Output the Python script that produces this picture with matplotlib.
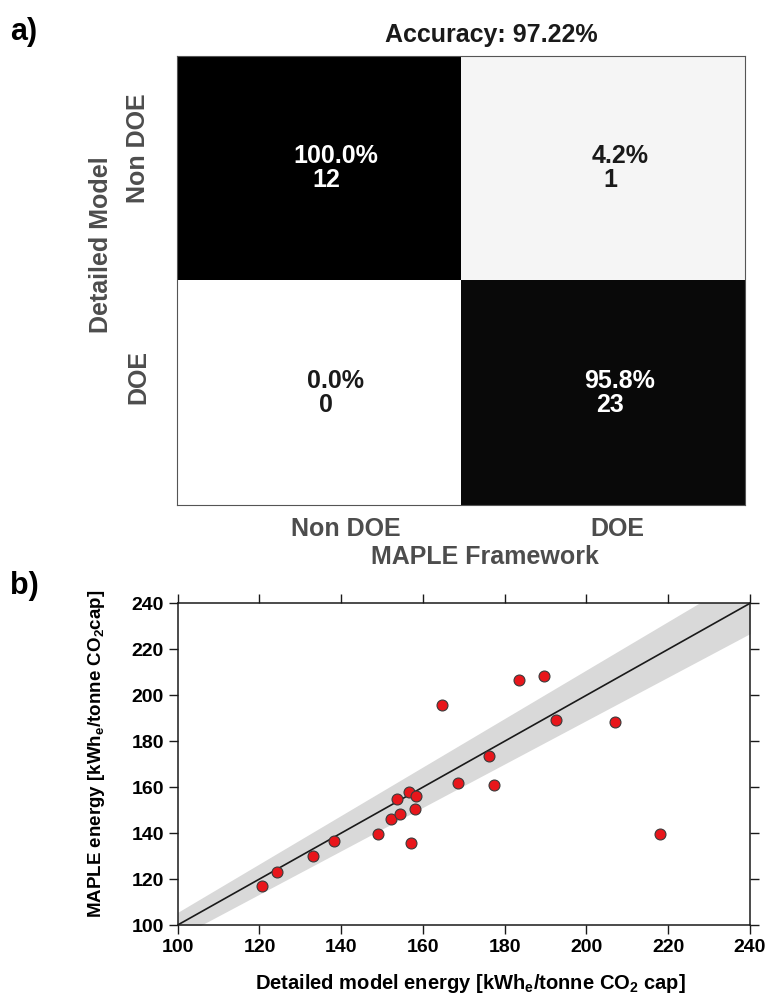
import numpy as np
import matplotlib
matplotlib.use("Agg")
import matplotlib.pyplot as plt

plt.rcParams['font.family'] = ['Liberation Sans', 'DejaVu Sans']
plt.rcParams['font.weight'] = 'bold'
plt.rcParams['mathtext.fontset'] = 'custom'
plt.rcParams['mathtext.bf'] = 'Liberation Sans:bold'
plt.rcParams['mathtext.rm'] = 'Liberation Sans:bold'
plt.rcParams['mathtext.default'] = 'bf'

# ---- confusion matrix data ----
class_names = ["Non DOE", "DOE"]
counts = np.array([[12, 1],
                   [0, 23]])
accuracy = 97.22

# ---- energy comparison data ----
detailed_energy = [120.6, 124.3, 133.2, 138.3, 148.9, 152.2, 154.4, 153.6, 156.6,
                   158.3, 158.0, 157.0, 164.7, 168.6, 176.2, 177.4, 183.4, 189.5,
                   192.6, 207.0, 218.0]
maple_energy = [117.1, 123.0, 130.2, 136.5, 139.7, 146.2, 148.4, 155.0, 158.0,
                156.3, 150.3, 135.9, 195.6, 161.9, 173.5, 160.9, 206.6, 208.4,
                189.1, 188.2, 139.5]
band_frac = 0.055
axis_range = (100, 240)
ticks = np.arange(100, 241, 20)

W, H = 768, 996
fig = plt.figure(figsize=(W / 100, H / 100), dpi=100)


def ax_rect(left, top, right, bottom):
    return [left / W, 1 - bottom / H, (right - left) / W, (bottom - top) / H]


# ================= a) confusion matrix =================
ax1 = fig.add_axes(ax_rect(177, 56, 745, 505))
pct = counts / counts.sum(axis=0, keepdims=True) * 100
ax1.imshow(pct, cmap='gray_r', vmin=0, vmax=100, aspect='auto',
           interpolation='nearest')
for sp in ax1.spines.values():
    sp.set_color('#555555')
    sp.set_linewidth(0.8)
ax1.set_xticks([])
ax1.set_yticks([])

for i in range(2):
    for j in range(2):
        c = 'white' if pct[i, j] > 50 else '#1a1a1a'
        ax1.annotate(f"{pct[i, j]:.1f}%", xy=(j, i), xytext=(17, 12),
                     textcoords='offset pixels', ha='center', va='center',
                     fontsize=18, fontweight='bold', color=c)
        ax1.annotate(f"{counts[i, j]:d}", xy=(j, i), xytext=(7, -12),
                     textcoords='offset pixels', ha='center', va='center',
                     fontsize=18, fontweight='bold', color=c)

label_gray = '#4d4d4d'
x_shift = [27, 14]
for j, name in enumerate(class_names):
    ax1.annotate(name, xy=(j, 0), xycoords=ax1.get_xaxis_transform(),
                 xytext=(x_shift[j], -12), textcoords='offset pixels',
                 ha='center', va='top', fontsize=18, fontweight='bold',
                 color=label_gray)
y_shift = [20, 16]
for i, name in enumerate(class_names):
    ax1.annotate(name, xy=(0, i), xycoords=ax1.get_yaxis_transform(),
                 xytext=(-27, y_shift[i]), textcoords='offset pixels',
                 ha='right', va='center', rotation=90, fontsize=18,
                 fontweight='bold', color=label_gray)

ax1.set_xlabel("MAPLE Framework", fontsize=18, fontweight='bold', color=label_gray)
ax1.xaxis.set_label_coords(0.542, -0.090)
ax1.set_ylabel("Detailed Model", fontsize=18, fontweight='bold', color=label_gray)
ax1.yaxis.set_label_coords(-0.112, 0.579)
ax1.set_title(f"Accuracy: {accuracy:.2f}%", fontsize=18, fontweight='bold',
              color='#1a1a1a', x=0.554, pad=10)

# ================= b) energy scatter =================
ax2 = fig.add_axes(ax_rect(177.7, 603.3, 750, 925))
xs = np.array(axis_range, dtype=float)
ax2.fill_between(xs, xs * (1 - band_frac), xs * (1 + band_frac),
                 color='#d9d9d9', lw=0, zorder=1)
ax2.plot(xs, xs, color='#1a1a1a', lw=1.2, zorder=2)
ax2.scatter(detailed_energy, maple_energy, s=62, facecolor='#e8161b',
            edgecolor='#3a3a3a', linewidth=0.8, zorder=3)
ax2.set_xlim(*axis_range)
ax2.set_ylim(*axis_range)
ax2.set_xticks(ticks)
ax2.set_yticks(ticks)
ax2.tick_params(direction='out', length=6.5, width=1.0, top=True, right=True,
                labeltop=False, labelright=False, labelsize=14, color='#1a1a1a')
for lab in ax2.get_xticklabels() + ax2.get_yticklabels():
    lab.set_fontweight('bold')
for sp in ax2.spines.values():
    sp.set_linewidth(1.1)
    sp.set_color('#1a1a1a')

ax2.set_xlabel(r"Detailed model energy [kWh$_{e}$/tonne CO$_{2}$ cap]",
               fontsize=14.5, fontweight='bold')
ax2.xaxis.set_label_coords(0.511, -0.145)
ax2.set_ylabel(r"MAPLE energy [kWh$_{e}$/tonne CO$_{2}$cap]",
               fontsize=13.5, fontweight='bold')
ax2.yaxis.set_label_coords(-0.124, 0.532)

# panel letters
fig.text(10 / W, 1 - 40 / H, "a)", fontsize=22, fontweight='bold', ha='left',
         va='baseline')
fig.text(10 / W, 1 - 594 / H, "b)", fontsize=22, fontweight='bold', ha='left',
         va='baseline')

fig.savefig("out.png", dpi=100)
